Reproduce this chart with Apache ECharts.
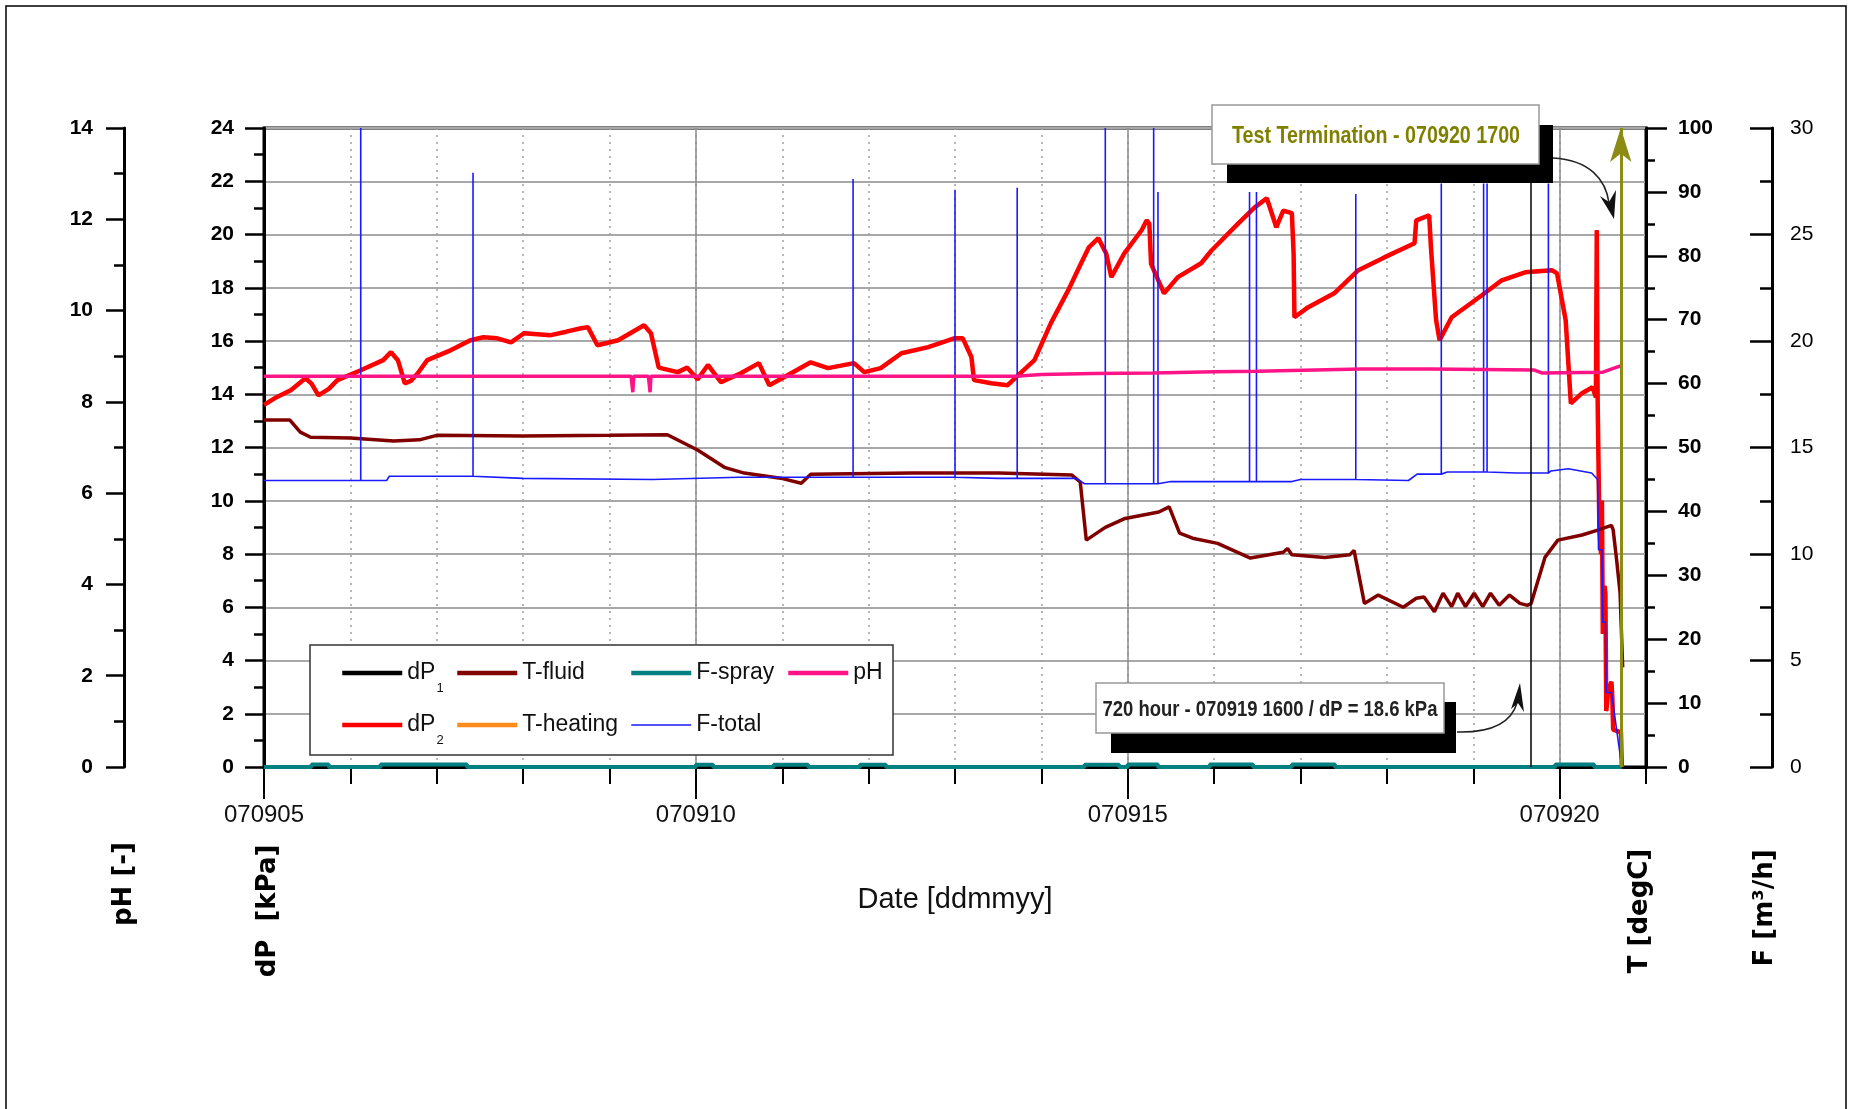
<!DOCTYPE html>
<html>
<head>
<meta charset="utf-8">
<title>dP / T / F / pH test record 070905 - 070920</title>
<script src="https://cdn.jsdelivr.net/npm/echarts@6/dist/echarts.min.js"></script>
<style>
html, body { margin: 0; padding: 0; background: #fff; }
#chart { width: 1853px; height: 1109px; }
</style>
</head>
<body>
<div id="chart"></div>
<script>
// x values are days of September 2007 (5 = 070905)
var dP2 = [
    [5.00, 13.6], [5.15, 13.9], [5.31, 14.15], [5.48, 14.6], [5.55, 14.4], [5.63, 13.96], [5.75, 14.2],
    [5.85, 14.53], [6.12, 14.9], [6.38, 15.28], [6.47, 15.58], [6.55, 15.28], [6.63, 14.41], [6.70, 14.5],
    [6.78, 14.79], [6.89, 15.28], [7.16, 15.65], [7.39, 16.03], [7.54, 16.14], [7.70, 16.1], [7.86, 15.95],
    [8.01, 16.29], [8.32, 16.22], [8.50, 16.35], [8.67, 16.48], [8.75, 16.52], [8.86, 15.84], [9.10, 16.03],
    [9.40, 16.59], [9.48, 16.29], [9.57, 15.0], [9.79, 14.83], [9.90, 15.0], [10.02, 14.56], [10.14, 15.1],
    [10.29, 14.45], [10.52, 14.79], [10.73, 15.17], [10.85, 14.34], [11.02, 14.64], [11.33, 15.2],
    [11.53, 14.98], [11.83, 15.17], [11.95, 14.83], [12.14, 14.98], [12.38, 15.54], [12.69, 15.77],
    [12.99, 16.1], [13.09, 16.1], [13.19, 15.4], [13.22, 14.53], [13.42, 14.41], [13.61, 14.34],
    [13.77, 14.83], [13.92, 15.28], [14.11, 16.67], [14.31, 17.9], [14.46, 18.92], [14.55, 19.52],
    [14.66, 19.86], [14.75, 19.29], [14.81, 18.4], [14.96, 19.29], [15.16, 20.16], [15.22, 20.53],
    [15.25, 20.4], [15.27, 18.9], [15.42, 17.79], [15.58, 18.4], [15.85, 18.92], [15.97, 19.4],
    [16.28, 20.42], [16.47, 21.02], [16.61, 21.36], [16.72, 20.27], [16.80, 20.9], [16.90, 20.8],
    [16.92, 19.29], [16.93, 16.89], [17.09, 17.27], [17.39, 17.79], [17.67, 18.66], [17.97, 19.14],
    [18.32, 19.67], [18.34, 20.53], [18.49, 20.72], [18.51, 19.52], [18.57, 16.78], [18.61, 16.03],
    [18.75, 16.89], [19.10, 17.72], [19.33, 18.28], [19.60, 18.58], [19.91, 18.66], [19.97, 18.54],
    [20.07, 16.78], [20.13, 13.66], [20.26, 14.04], [20.38, 14.26], [20.42, 13.89], [20.43, 20.16],
    [20.44, 13.8], [20.46, 9.0], [20.48, 8.0], [20.49, 10.0], [20.50, 5.0], [20.52, 6.8], [20.53, 6.5],
    [20.54, 2.1], [20.56, 2.8], [20.60, 3.2], [20.61, 2.6], [20.62, 1.4], [20.71, 1.3], [20.72, 0]
];
// dP1 lies underneath dP2 over the whole record
var dP1 = dP2;

var tFluid = [
    [5.0, 54.3], [5.3, 54.3], [5.42, 52.4], [5.54, 51.6], [6.0, 51.5], [6.5, 51.0], [6.8, 51.2],
    [7.0, 51.9], [8.0, 51.8], [9.0, 51.9], [9.67, 52.0], [10.02, 49.6], [10.33, 46.9], [10.56, 46.0],
    [10.98, 45.2], [11.22, 44.4], [11.33, 45.8], [12.5, 46.0], [13.5, 46.0], [14.35, 45.7], [14.45, 44.6],
    [14.52, 35.5], [14.74, 37.5], [14.97, 38.9], [15.36, 39.9], [15.48, 40.7], [15.60, 36.6], [15.75, 35.8],
    [16.04, 35.0], [16.42, 32.7], [16.80, 33.6], [16.85, 34.2], [16.90, 33.2], [17.28, 32.8], [17.57, 33.2],
    [17.62, 33.9], [17.74, 25.6], [17.90, 26.9], [18.19, 25.0], [18.34, 26.4], [18.43, 26.6], [18.55, 24.3],
    [18.65, 27.2], [18.75, 25.1], [18.82, 27.2], [18.91, 25.1], [19.01, 27.2], [19.11, 25.1], [19.20, 27.2],
    [19.30, 25.3], [19.42, 26.9], [19.54, 25.6], [19.63, 25.3], [19.67, 25.6], [19.83, 32.8], [19.98, 35.5],
    [20.26, 36.3], [20.45, 37.1], [20.60, 37.8], [20.62, 37.1], [20.66, 32.4], [20.70, 27.2], [20.73, 15.6]
];
var tHeating = [];

// step values: each value holds until the next day
var fSpray = [
    [5.0, 0], [5.55, 0.12], [5.75, 0], [6.35, 0.12], [7.35, 0], [10.0, 0.1], [10.2, 0], [10.9, 0.1],
    [11.3, 0], [11.9, 0.1], [12.2, 0], [14.5, 0.1], [14.9, 0], [15.0, 0.12], [15.35, 0], [15.95, 0.12],
    [16.45, 0], [16.9, 0.12], [17.4, 0], [19.95, 0.12], [20.4, 0], [20.72, 0]
];
var fTotalBase = [
    [5.0, 13.45], [6.42, 13.45], [6.45, 13.65], [8.0, 13.55], [9.5, 13.5], [10.5, 13.6], [12.0, 13.6],
    [13.5, 13.55], [14.4, 13.55], [14.5, 13.3], [15.5, 13.4], [16.9, 13.4], [17.0, 13.5], [18.25, 13.45],
    [18.35, 13.75], [18.7, 13.85], [19.5, 13.8], [19.9, 13.9], [20.1, 14.0], [20.37, 13.8], [20.44, 13.5],
    [20.45, 10.2], [20.49, 10.2], [20.50, 6.8], [20.53, 6.8], [20.54, 3.5], [20.60, 3.5], [20.72, 0]
];
// short flow peaks: [day, peak F]
var fTotalSpikes = [
    [6.12, 30], [7.42, 27.9], [11.82, 27.6], [13.0, 27.1], [13.72, 27.2], [14.74, 30], [15.30, 30],
    [15.35, 27.0], [16.41, 27.0], [16.49, 27.0], [17.64, 26.9], [18.63, 27.4], [19.12, 27.4],
    [19.16, 27.4], [19.87, 27.4]
];
var pH = [
    [5.0, 8.56], [9.25, 8.56], [9.27, 8.21], [9.28, 8.56], [9.45, 8.56], [9.47, 8.21], [9.48, 8.56],
    [13.7, 8.56], [14.0, 8.6], [14.6, 8.62], [15.3, 8.63], [16.0, 8.66], [16.5, 8.67], [17.7, 8.72],
    [18.5, 8.72], [19.7, 8.7], [19.8, 8.63], [20.5, 8.65], [20.72, 8.8]
];

var dateTicks = [5, 10, 15, 20];
var dateLabels = ['070905', '070910', '070915', '070920'];
var hour720Day = 19.667;   // 070919 1600
var stopDay = 20.708;      // 070920 1700

var SANS = "'Liberation Sans', Arial, sans-serif";
var WIDE = "'DejaVu Sans', Verdana, sans-serif";

function buildFTotal() {
    var out = [], s = 0;
    for (var i = 0; i < fTotalBase.length; i++) {
        while (s < fTotalSpikes.length && fTotalSpikes[s][0] < fTotalBase[i][0]) {
            var base = out.length ? out[out.length - 1][1] : fTotalBase[0][1];
            out.push([fTotalSpikes[s][0], base], [fTotalSpikes[s][0], fTotalSpikes[s][1]], [fTotalSpikes[s][0], base]);
            s++;
        }
        out.push(fTotalBase[i]);
    }
    return out;
}

function lineSeries(name, data, color, width, yIndex) {
    return {
        name: name, type: 'line', xAxisIndex: 0, yAxisIndex: yIndex, data: data,
        symbol: 'none', showSymbol: false, animation: false,
        lineStyle: { color: color, width: width }, itemStyle: { color: color }
    };
}

function legendFormatter(name) {
    if (name === 'dP1') return 'dP{s|1}';
    if (name === 'dP2') return 'dP{s|2}';
    return name;
}

function legendCol(left, names) {
    var items = names.map(function (n) {
        return { name: n, lineStyle: { width: n === 'F-total' ? 1.5 : 4.5 } };
    });
    return {
        show: true, orient: 'vertical', left: left, top: 647, padding: 0, itemGap: 0,
        itemWidth: 60, itemHeight: 4, selectedMode: false, data: items, z: 5,
        itemStyle: { opacity: 0 },
        formatter: legendFormatter,
        textStyle: {
            fontFamily: SANS, fontSize: 23, color: '#111', lineHeight: 52,
            rich: { s: { fontFamily: SANS, fontSize: 13, lineHeight: 13, padding: [30, 0, 0, 1], color: '#111' } }
        }
    };
}

function yAxisBase(pos, offset, max, interval, tick, minor, margin, bold) {
    return {
        type: 'value', position: pos, offset: offset, min: 0, max: max, interval: interval,
        axisLine: { show: true, onZero: false, lineStyle: { color: '#000', width: 3 } },
        axisTick: { show: true, length: tick, lineStyle: { color: '#000', width: 2.5 } },
        minorTick: { show: true, splitNumber: 2, length: minor, lineStyle: { color: '#000', width: 2.5 } },
        axisLabel: { margin: margin, fontFamily: SANS, fontSize: 21, fontWeight: bold ? 'bold' : 'normal', color: '#000' },
        splitLine: { show: false }
    };
}

var dPAxis = yAxisBase('left', 0, 24, 2, 19, 10, 30, true);
dPAxis.splitLine = { show: true, lineStyle: { color: '#a8a8a8', width: 1.8 } };
var tAxis = yAxisBase('right', 0, 100, 10, 21, 9, 32, true);
var pHAxis = yAxisBase('left', 140, 14, 2, 18, 10, 31, true);
var fAxis = yAxisBase('right', 126, 30, 5, 22, 12, 18, false);
fAxis.axisTick.inside = true;

var chart = echarts.init(document.getElementById('chart'));

function axisTitle(text, x, y) {
    return {
        type: 'text', x: x, y: y, rotation: Math.PI / 2, z: 6,
        style: { text: text, fontFamily: WIDE, fontWeight: 'bold', fontSize: 26, fill: '#000', align: 'center', verticalAlign: 'middle' }
    };
}

// condensed bold note text
function noteText(text, x, y, size, color) {
    return {
        type: 'text', z: 22, silent: true, x: x, y: y, scaleX: 0.82,
        style: { text: text, fontFamily: SANS, fontWeight: 'bold', fontSize: size, fill: color, align: 'center', verticalAlign: 'middle' }
    };
}

var option = {
    backgroundColor: '#fff',
    animation: false,
    grid: { left: 264, top: 128, width: 1382, height: 639, show: true, borderColor: '#000', borderWidth: 3, backgroundColor: 'transparent' },
    legend: [
        legendCol(340, ['dP1', 'dP2']),
        legendCol(455, ['T-fluid', 'T-heating']),
        legendCol(629, ['F-spray', 'F-total']),
        legendCol(786, ['pH'])
    ],
    xAxis: [{
        type: 'value', min: 5, max: 21, interval: 1, position: 'bottom',
        axisLine: { show: true, onZero: false, lineStyle: { color: '#000', width: 3 } },
        axisTick: { show: true, length: 17, lineStyle: { color: '#000', width: 2 } },
        axisLabel: { show: false },
        splitLine: { show: true, lineStyle: { color: '#a0a0a0', width: 1.5, type: [2, 5] } }
    }, {
        type: 'value', min: 5, max: 21, interval: 5, position: 'bottom',
        name: 'Date [ddmmyy]', nameLocation: 'middle', nameGap: 118,
        nameTextStyle: { fontFamily: SANS, fontSize: 29, color: '#111' },
        axisLine: { show: false },
        axisTick: { show: true, length: 32, customValues: dateTicks, lineStyle: { color: '#000', width: 2 } },
        axisLabel: {
            customValues: dateTicks, margin: 36, fontFamily: SANS, fontSize: 24, color: '#111',
            formatter: function (v) {
                var i = dateTicks.indexOf(v);
                return i >= 0 ? dateLabels[i] : '';
            }
        },
        splitLine: { show: true, lineStyle: { color: '#8a8a8a', width: 1.5 } }
    }],
    yAxis: [dPAxis, tAxis, pHAxis, fAxis],
    series: [
        lineSeries('dP1', dP1, '#000000', 3, 0),
        (function () {
            var s = lineSeries('dP2', dP2, '#ff0000', 4.5, 0);
            s.markLine = {
                silent: true, animation: false, label: { show: false },
                symbol: ['none', 'none'],
                data: [
                    [
                        { coord: [hour720Day, 0], symbol: 'none', lineStyle: { color: '#000', width: 1.5, type: 'solid' } },
                        { coord: [hour720Day, 24], symbol: 'none' }
                    ],
                    [
                        { coord: [stopDay, 0], symbol: 'none', lineStyle: { color: '#8c8c14', width: 3, type: 'solid' } },
                        { coord: [stopDay, 24], symbol: 'arrow', symbolSize: [16, 34] }
                    ]
                ]
            };
            return s;
        })(),
        lineSeries('T-fluid', tFluid, '#800000', 3.5, 1),
        lineSeries('T-heating', tHeating, '#ff8c1a', 4, 1),
        (function () {
            var s = lineSeries('F-spray', fSpray, '#008080', 4, 3);
            s.step = 'end';
            return s;
        })(),
        lineSeries('F-total', buildFTotal(), '#1a1aff', 1.6, 3),
        lineSeries('pH', pH, '#ff1488', 3.5, 2)
    ],
    graphic: [
        { type: 'rect', z: 0, silent: true, shape: { x: 6, y: 6, width: 1840, height: 1200 }, style: { fill: 'none', stroke: '#000', lineWidth: 1.5 } },
        // legend frame
        { type: 'rect', z: 3, silent: true, shape: { x: 310, y: 645, width: 583, height: 110 }, style: { fill: '#fff', stroke: '#333', lineWidth: 1.5 } },
        // test termination note
        { type: 'rect', z: 20, silent: true, shape: { x: 1227, y: 125, width: 326, height: 58 }, style: { fill: '#000' } },
        { type: 'rect', z: 21, silent: true, shape: { x: 1212, y: 105, width: 327, height: 59 }, style: { fill: '#fff', stroke: '#999', lineWidth: 1.5 } },
        noteText('Test Termination - 070920 1700', 1376, 136, 24, '#808000'),
        { type: 'bezierCurve', z: 22, silent: true, shape: { x1: 1553, y1: 158, cpx1: 1590, cpy1: 160, cpx2: 1606, cpy2: 180, x2: 1609, y2: 203 }, style: { stroke: '#222', lineWidth: 1.5, fill: 'none' } },
        { type: 'polygon', z: 22, silent: true, shape: { points: [[1614, 219], [1600, 196], [1609, 202], [1616, 190]] }, style: { fill: '#111' } },
        // 720 hour note
        { type: 'rect', z: 20, silent: true, shape: { x: 1111, y: 702, width: 345, height: 51 }, style: { fill: '#000' } },
        { type: 'rect', z: 21, silent: true, shape: { x: 1096, y: 683, width: 348, height: 50 }, style: { fill: '#fff', stroke: '#999', lineWidth: 1.5 } },
        noteText('720 hour - 070919 1600 / dP = 18.6 kPa', 1270, 710, 22.5, '#222'),
        { type: 'bezierCurve', z: 22, silent: true, shape: { x1: 1457, y1: 732, cpx1: 1495, cpy1: 733, cpx2: 1512, cpy2: 720, x2: 1517, y2: 703 }, style: { stroke: '#222', lineWidth: 1.5, fill: 'none' } },
        { type: 'polygon', z: 22, silent: true, shape: { points: [[1520, 683], [1524, 712], [1518, 703], [1511, 709]] }, style: { fill: '#111' } },
        // axis titles
        axisTitle('pH [-]', 124, 884),
        axisTitle('dP  [kPa]', 268, 911),
        axisTitle('T [degC]', 1640, 911),
        axisTitle('F [m\u00b3/h]', 1765, 908)
    ]
};

chart.setOption(option);
</script>
</body>
</html>
